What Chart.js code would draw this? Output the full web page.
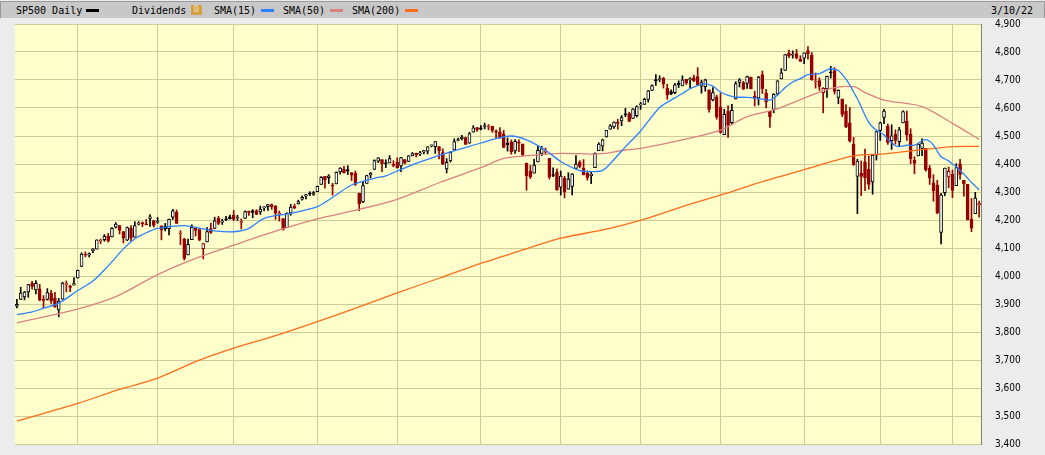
<!DOCTYPE html>
<html>
<head>
<meta charset="utf-8">
<title>SP500 Daily</title>
<script src="https://cdn.jsdelivr.net/npm/chart.js@4.4.1/dist/chart.umd.min.js"></script>
<style>
  html, body { margin: 0; padding: 0; background: #ececec; }
  #wrap { position: relative; width: 1045px; height: 455px; overflow: hidden; background: #ececec; }
  #chart { position: absolute; left: 0; top: 0; }
  #bar { position: absolute; left: 0; top: 1px; width: 1043px; height: 16px; background: #c8c8c8;
         border-top: 1px solid #9a9a9a; border-left: 1px solid #9a9a9a; border-right: 1px solid #9a9a9a;
         font: 10px "DejaVu Sans Mono", monospace; color: #000; }
  #bar span { position: absolute; top: 3px; line-height: 12px; white-space: pre; }
  #bar i { position: absolute; display: block; top: 7px; width: 13px; height: 3px; }
  #bar b { position: absolute; left: 190px; top: 3px; width: 11px; height: 10px; background: #d6a046;
           color: #f5e3b8; font: 8px "DejaVu Sans Mono", monospace; line-height: 10px; text-align: center; }
</style>
</head>
<body>
<div id="wrap">
  <canvas id="chart" width="1045" height="455"></canvas>
  <div id="bar">
    <span style="left:15px">SP500 Daily</span><i style="left:85px;background:#000"></i>
    <span style="left:131px">Dividends</span><b>D</b>
    <span style="left:213px">SMA(15)</span><i style="left:260px;background:#2b80ff"></i>
    <span style="left:282px">SMA(50)</span><i style="left:329px;background:#d98080"></i>
    <span style="left:351px">SMA(200)</span><i style="left:404px;background:#ff6c1a"></i>
    <span style="left:990px">3/10/22</span>
  </div>
</div>
<script>
// one trading day per entry, 3/10/21 .. 3/10/22
const dates = [
  '3/10/21','3/11/21','3/12/21','3/15/21','3/16/21','3/17/21','3/18/21','3/19/21','3/22/21','3/23/21','3/24/21','3/25/21','3/26/21','3/29/21','3/30/21','3/31/21',
  '4/1/21','4/5/21','4/6/21','4/7/21','4/8/21','4/9/21','4/12/21','4/13/21','4/14/21','4/15/21','4/16/21','4/19/21','4/20/21','4/21/21','4/22/21','4/23/21','4/26/21','4/27/21','4/28/21','4/29/21','4/30/21',
  '5/3/21','5/4/21','5/5/21','5/6/21','5/7/21','5/10/21','5/11/21','5/12/21','5/13/21','5/14/21','5/17/21','5/18/21','5/19/21','5/20/21','5/21/21','5/24/21','5/25/21','5/26/21','5/27/21','5/28/21',
  '6/1/21','6/2/21','6/3/21','6/4/21','6/7/21','6/8/21','6/9/21','6/10/21','6/11/21','6/14/21','6/15/21','6/16/21','6/17/21','6/18/21','6/21/21','6/22/21','6/23/21','6/24/21','6/25/21','6/28/21','6/29/21','6/30/21',
  '7/1/21','7/2/21','7/6/21','7/7/21','7/8/21','7/9/21','7/12/21','7/13/21','7/14/21','7/15/21','7/16/21','7/19/21','7/20/21','7/21/21','7/22/21','7/23/21','7/26/21','7/27/21','7/28/21','7/29/21','7/30/21',
  '8/2/21','8/3/21','8/4/21','8/5/21','8/6/21','8/9/21','8/10/21','8/11/21','8/12/21','8/13/21','8/16/21','8/17/21','8/18/21','8/19/21','8/20/21','8/23/21','8/24/21','8/25/21','8/26/21','8/27/21','8/30/21','8/31/21',
  '9/1/21','9/2/21','9/3/21','9/7/21','9/8/21','9/9/21','9/10/21','9/13/21','9/14/21','9/15/21','9/16/21','9/17/21','9/20/21','9/21/21','9/22/21','9/23/21','9/24/21','9/27/21','9/28/21','9/29/21','9/30/21',
  '10/1/21','10/4/21','10/5/21','10/6/21','10/7/21','10/8/21','10/11/21','10/12/21','10/13/21','10/14/21','10/15/21','10/18/21','10/19/21','10/20/21','10/21/21','10/22/21','10/25/21','10/26/21','10/27/21','10/28/21','10/29/21',
  '11/1/21','11/2/21','11/3/21','11/4/21','11/5/21','11/8/21','11/9/21','11/10/21','11/11/21','11/12/21','11/15/21','11/16/21','11/17/21','11/18/21','11/19/21','11/22/21','11/23/21','11/24/21','11/26/21','11/29/21','11/30/21',
  '12/1/21','12/2/21','12/3/21','12/6/21','12/7/21','12/8/21','12/9/21','12/10/21','12/13/21','12/14/21','12/15/21','12/16/21','12/17/21','12/20/21','12/21/21','12/22/21','12/23/21','12/27/21','12/28/21','12/29/21','12/30/21','12/31/21',
  '1/3/22','1/4/22','1/5/22','1/6/22','1/7/22','1/10/22','1/11/22','1/12/22','1/13/22','1/14/22','1/18/22','1/19/22','1/20/22','1/21/22','1/24/22','1/25/22','1/26/22','1/27/22','1/28/22','1/31/22',
  '2/1/22','2/2/22','2/3/22','2/4/22','2/7/22','2/8/22','2/9/22','2/10/22','2/11/22','2/14/22','2/15/22','2/16/22','2/17/22','2/18/22','2/22/22','2/23/22','2/24/22','2/25/22','2/28/22',
  '3/1/22','3/2/22','3/3/22','3/4/22','3/7/22','3/8/22','3/9/22','3/10/22'
];

const opens = [
  3892,3916,3925,3943,3974,3950,3954,3913,3916,3938,3920,3879,3917,3969,3963,3967,
  3993,4034,4076,4074,4090,4096,4125,4130,4142,4140,4174,4180,4159,4128,4170,4139,4185,4188,4185,4206,4198,
  4192,4179,4177,4169,4210,4228,4150,4131,4075,4130,4170,4166,4098,4122,4169,4170,4206,4192,4202,4211,
  4217,4207,4191,4206,4229,4234,4233,4229,4243,4248,4255,4249,4220,4205,4173,4225,4249,4257,4274,4285,4293,4291,
  4301,4327,4356,4351,4321,4329,4372,4381,4380,4369,4367,4296,4265,4331,4361,4381,4410,4416,4403,4404,4395,
  4407,4393,4416,4409,4429,4438,4436,4442,4446,4465,4462,4462,4441,4382,4411,4450,4484,4490,4494,4474,4514,4530,
  4529,4534,4532,4535,4518,4513,4507,4475,4479,4447,4477,4470,4403,4374,4367,4407,4438,4442,4420,4362,4371,
  4317,4349,4310,4320,4384,4407,4385,4368,4358,4387,4448,4464,4497,4524,4532,4546,4554,4579,4580,4563,4573,
  4611,4613,4631,4663,4699,4701,4707,4670,4659,4655,4689,4679,4702,4701,4708,4712,4678,4676,4665,4629,4640,
  4603,4505,4589,4548,4632,4691,4691,4688,4710,4643,4636,4719,4653,4588,4595,4650,4704,4734,4795,4789,4794,4775,
  4778,4805,4788,4693,4698,4655,4669,4729,4734,4638,4632,4588,4547,4471,4356,4367,4408,4381,4336,4432,
  4520,4566,4535,4483,4506,4480,4547,4553,4506,4413,4429,4456,4456,4385,4333,4325,4156,4298,4354,
  4363,4323,4401,4342,4327,4203,4223,4253
];

const highs = [
  3917,3960,3945,3970,3981,3984,3970,3930,3955,3949,3942,3920,3978,3982,3968,3994,
  4021,4083,4086,4083,4098,4129,4132,4148,4152,4173,4191,4181,4159,4175,4180,4194,4194,4193,4202,4219,4198,
  4209,4179,4188,4203,4238,4236,4162,4135,4132,4183,4172,4169,4117,4173,4189,4210,4213,4203,4213,4218,
  4234,4217,4204,4233,4232,4237,4237,4250,4248,4256,4257,4252,4232,4205,4226,4256,4257,4271,4286,4292,4301,4302,
  4321,4355,4356,4362,4331,4372,4387,4392,4394,4369,4375,4296,4337,4360,4370,4415,4423,4416,4415,4430,4412,
  4422,4424,4416,4430,4441,4439,4445,4449,4462,4468,4480,4462,4454,4419,4444,4490,4493,4502,4496,4513,4537,4531,
  4537,4546,4541,4535,4522,4530,4520,4493,4486,4487,4486,4472,4403,4395,4417,4465,4463,4457,4420,4386,4383,
  4375,4356,4369,4366,4430,4412,4416,4375,4373,4440,4476,4489,4520,4541,4551,4560,4573,4599,4585,4598,4608,
  4620,4635,4663,4683,4719,4715,4709,4685,4665,4688,4697,4715,4702,4709,4718,4744,4699,4703,4665,4673,4646,
  4653,4595,4608,4613,4694,4705,4695,4714,4710,4660,4713,4732,4667,4588,4651,4698,4741,4791,4807,4804,4809,4787,
  4797,4819,4798,4725,4708,4673,4714,4749,4744,4665,4632,4612,4602,4495,4417,4411,4453,4429,4433,4517,
  4550,4595,4543,4540,4522,4531,4590,4589,4526,4426,4473,4490,4456,4395,4362,4342,4295,4385,4389,
  4378,4401,4417,4342,4327,4277,4299,4268
];

const lows = [
  3886,3916,3915,3924,3953,3936,3911,3887,3914,3902,3889,3854,3917,3943,3944,3967,
  3993,4034,4068,4068,4083,4096,4115,4124,4121,4140,4171,4150,4118,4126,4124,4139,4182,4176,4182,4177,4175,
  4188,4129,4161,4147,4202,4188,4112,4057,4075,4130,4143,4126,4061,4122,4152,4170,4183,4184,4198,4204,
  4198,4198,4168,4206,4216,4208,4219,4220,4232,4234,4238,4202,4196,4164,4173,4217,4241,4257,4271,4275,4287,4288,
  4301,4327,4314,4330,4289,4329,4364,4367,4362,4341,4323,4233,4262,4331,4350,4381,4405,4373,4387,4404,4390,
  4385,4373,4400,4409,4429,4425,4430,4436,4436,4461,4438,4418,4398,4368,4407,4450,4482,4486,4469,4474,4514,4516,
  4522,4525,4522,4513,4494,4492,4458,4446,4435,4438,4444,4428,4306,4348,4367,4407,4430,4436,4346,4355,4306,
  4289,4279,4310,4290,4384,4386,4361,4342,4330,4387,4448,4447,4496,4524,4527,4524,4537,4569,4552,4563,4568,
  4595,4613,4621,4663,4681,4694,4671,4631,4648,4651,4673,4679,4684,4673,4694,4682,4653,4660,4585,4625,4560,
  4510,4505,4495,4541,4632,4675,4666,4670,4668,4607,4611,4652,4600,4531,4583,4646,4704,4734,4780,4778,4775,4766,
  4758,4774,4699,4671,4663,4582,4638,4707,4650,4615,4569,4530,4478,4395,4223,4287,4305,4310,4292,4414,
  4484,4544,4470,4452,4471,4465,4547,4484,4401,4365,4429,4430,4374,4327,4267,4222,4115,4287,4315,
  4280,4323,4346,4285,4200,4158,4223,4210
];

const closes = [
  3899,3939,3943,3969,3963,3974,3915,3913,3941,3911,3889,3910,3975,3971,3959,3973,
  4020,4078,4074,4080,4097,4129,4128,4142,4125,4170,4185,4163,4135,4173,4135,4180,4188,4187,4183,4211,4181,
  4193,4165,4168,4202,4233,4188,4152,4063,4113,4174,4163,4128,4116,4159,4156,4197,4188,4196,4201,4204,
  4202,4208,4193,4230,4227,4227,4220,4239,4247,4255,4247,4224,4222,4166,4225,4246,4242,4266,4281,4291,4292,4298,
  4320,4352,4344,4358,4321,4370,4385,4369,4374,4360,4327,4258,4323,4359,4367,4412,4422,4401,4401,4419,4395,
  4387,4423,4403,4429,4437,4432,4437,4448,4461,4468,4480,4448,4400,4406,4442,4480,4486,4496,4470,4509,4529,4523,
  4524,4537,4535,4520,4514,4493,4459,4469,4443,4481,4474,4433,4358,4354,4396,4449,4455,4443,4353,4359,4308,
  4357,4300,4346,4364,4400,4391,4361,4351,4364,4438,4471,4486,4520,4536,4550,4545,4566,4575,4552,4596,4605,
  4614,4631,4661,4680,4698,4702,4685,4647,4649,4683,4683,4701,4689,4705,4698,4683,4691,4701,4595,4655,4567,
  4513,4577,4538,4592,4687,4701,4667,4712,4669,4634,4710,4669,4621,4568,4649,4697,4726,4791,4786,4793,4779,4766,
  4797,4794,4701,4696,4677,4670,4713,4726,4659,4663,4577,4533,4483,4398,4410,4356,4350,4327,4432,4516,
  4547,4589,4477,4501,4484,4522,4587,4504,4419,4402,4471,4475,4380,4349,4305,4226,4289,4385,4374,
  4306,4387,4363,4329,4201,4171,4278,4260
];
const prevClose = 3875; // close of the session before the first bar

// moving averages, at the given bar indices
const sma15Days = [0,4,7,11,16,20,24,28,31,33,37,44,48,52,57,61,65,72,79,84,88,94,97,100,105,111,122,126,130,134,
  139,143,148,151,154,157,160,164,169,173,175,177,179,181,183,185,187,189,192,196,198,200,202,204,206,208,211,213,214,215,
  216,217,218,219,220,221,222,223,224,225,226,228,229,230,231,232,234,236,238,239,240,241,242,243,245,246,247,248,249,250,
  251,252,253];
const sma15 = [3862,3872,3885,3903,3948,3982,4036,4097,4133,4148,4170,4180,4171,4161,4158,4170,4206,4224,4248,4290,
  4325,4349,4358,4375,4402,4431,4475,4491,4500,4486,4449,4409,4376,4373,4377,4416,4461,4518,4602,4636,
  4652,4669,4680,4686,4678,4657,4645,4639,4638,4632,4628,4646,4673,4693,4705,4719,4723,4736,4741,4738,
  4734,4720,4703,4682,4657,4633,4604,4574,4549,4532,4521,4504,4488,4477,4465,4462,4467,4467,4483,4487,
  4481,4467,4446,4426,4411,4400,4391,4376,4364,4349,4334,4321,4307];

const sma50Days = [0,16,26,37,47,57,68,79,90,100,111,122,128,136,143,153,160,164,175,185,192,199,207,214,220,223,228,238,246,253];
const sma50 = [3833,3882,3926,4005,4063,4110,4160,4204,4238,4274,4333,4387,4420,4432,4438,4436,4450,4456,4486,4521,
  4569,4593,4635,4670,4676,4655,4628,4605,4545,4488];

const sma200Days = [0,16,27,37,47,57,68,79,90,100,111,122,133,143,155,165,175,186,196,207,220,228,246,253];
const sma200 = [3482,3545,3595,3635,3694,3742,3787,3837,3890,3940,3992,4045,4093,4135,4167,4203,4248,4293,4337,4380,
  4429,4436,4462,4463];

const GRID = '#cccc99';
const UP = '#000000';
const DOWN = '#990000';

// black when the close is up from the previous close, red when down; hollow body when close > open
const tone = closes.map((c, i) => c >= (i ? closes[i - 1] : prevClose) ? UP : DOWN);
const fill = opens.map((o, i) => closes[i] > o ? '#ffffff' : tone[i]);
const monthStart = dates.map((d, i) => i > 0 && d.split('/')[0] !== dates[i - 1].split('/')[0]);

function onDays(days, vals) {
  const out = dates.map(() => null);
  days.forEach((d, k) => { out[d] = vals[k]; });
  return out;
}

const plotBg = {
  id: 'plotBg',
  beforeDraw(chart) {
    const { ctx, chartArea: a } = chart;
    ctx.save();
    ctx.fillStyle = '#ffffcc';
    ctx.fillRect(a.left, a.top, a.width, a.height);
    ctx.restore();
  }
};

function smaLine(label, days, vals, color) {
  return {
    type: 'line', label: label, data: onDays(days, vals),
    borderColor: color, borderWidth: 1.3, pointRadius: 0,
    spanGaps: true, tension: 0.3, order: 0
  };
}

new Chart(document.getElementById('chart'), {
  data: {
    labels: dates,
    datasets: [
      smaLine('SMA(15)', sma15Days, sma15, '#2b80ff'),
      smaLine('SMA(50)', sma50Days, sma50, '#d98080'),
      smaLine('SMA(200)', sma200Days, sma200, '#ff6c1a'),
      {
        type: 'bar', label: 'range',
        data: lows.map((l, i) => [l, highs[i]]),
        backgroundColor: tone, barThickness: 1, grouped: false, order: 5
      },
      {
        type: 'bar', label: 'SP500 Daily',
        data: opens.map((o, i) => [o, closes[i]]),
        backgroundColor: fill, borderColor: tone, borderWidth: 1, borderSkipped: false,
        barThickness: 3, minBarLength: 1, grouped: false, order: 4
      }
    ]
  },
  options: {
    responsive: false,
    animation: false,
    layout: { padding: { left: 15, top: 24, right: 0, bottom: 11 } },
    plugins: { legend: { display: false }, tooltip: { enabled: false } },
    scales: {
      x: {
        offset: true,
        grid: {
          offset: false, drawTicks: false,
          color: c => monthStart[c.index] ? GRID : 'rgba(0,0,0,0)'
        },
        border: { display: false },
        ticks: { display: false, autoSkip: false },
        afterFit: s => { s.height = 0; }
      },
      y: {
        position: 'right',
        min: 3400, max: 4900,
        grid: { color: GRID, drawTicks: true, tickLength: 14, tickColor: 'rgba(0,0,0,0)' },
        border: { color: '#7f7f7f' },
        ticks: {
          stepSize: 100, padding: 0, color: '#000',
          font: { family: '"Liberation Sans Narrow", "DejaVu Sans Condensed", "Liberation Sans", sans-serif', size: 10 },
          callback: v => v.toLocaleString('en-US')
        },
        afterFit: s => { s.width = 64; }
      }
    }
  },
  plugins: [plotBg]
});
</script>
</body>
</html>
